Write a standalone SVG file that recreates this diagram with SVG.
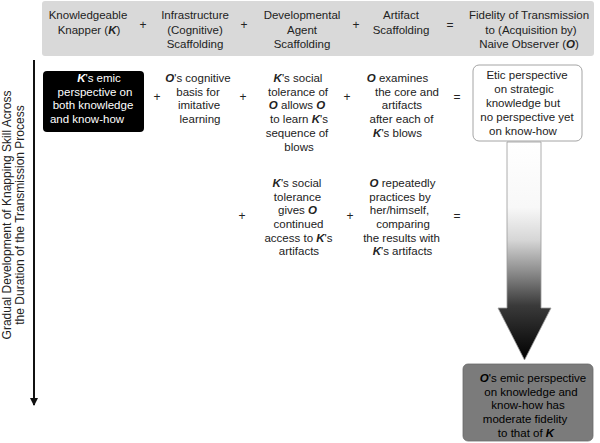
<svg xmlns="http://www.w3.org/2000/svg" width="600" height="443" viewBox="0 0 600 443">
<style>
text{font-family:"Liberation Sans",Arial,sans-serif;font-size:11.5px;fill:#222;text-anchor:middle}
.w{fill:#fff}
.k{fill:#000}
.bi{font-weight:bold;font-style:italic}
.op{font-size:12px}
.rot{font-size:12px}
</style>
<defs>
<linearGradient id="fade" gradientUnits="userSpaceOnUse" x1="0" y1="142" x2="0" y2="360">
<stop offset="0" stop-color="#ffffff"/>
<stop offset="0.3" stop-color="#f8f8f8"/>
<stop offset="0.45" stop-color="#d6d6d6"/>
<stop offset="0.6" stop-color="#8a8a8a"/>
<stop offset="0.75" stop-color="#3a3a3a"/>
<stop offset="1" stop-color="#000000"/>
</linearGradient>
<marker id="ah" markerWidth="8" markerHeight="8" refX="7" refY="4" orient="auto" markerUnits="userSpaceOnUse">
<path d="M0,0 L8,4 L0,8 Z" fill="#111"/>
</marker>
</defs>
<rect width="600" height="443" fill="#fff"/>

<g id="header">
<rect x="42" y="1" width="552" height="55" rx="3" fill="#d9d9d9"/>
<text x="88" y="19">Knowledgeable</text>
<text x="89" y="33.5">Knapper (<tspan class="bi">K</tspan>)</text>
<text x="143" y="29" class="op">+</text>
<text x="195" y="19">Infrastructure</text>
<text x="195" y="33.5">(Cognitive)</text>
<text x="195" y="48">Scaffolding</text>
<text x="244" y="29" class="op">+</text>
<text x="302" y="19">Developmental</text>
<text x="302" y="33.5">Agent</text>
<text x="302" y="48">Scaffolding</text>
<text x="356" y="29" class="op">+</text>
<text x="401" y="19">Artifact</text>
<text x="401" y="33.5">Scaffolding</text>
<text x="450" y="29" class="op">=</text>
<text x="529" y="19">Fidelity of Transmission</text>
<text x="531" y="33.5">to (Acquisition by)</text>
<text x="529" y="48">Naive Observer (<tspan class="bi">O</tspan>)</text>
</g>

<g id="axis-label">
<text class="rot" transform="translate(10.5,215) rotate(-90)">Gradual Development of Knapping Skill Across</text>
<text class="rot" transform="translate(23.5,215) rotate(-90)">the Duration of the Transmission Process</text>
</g>

<g id="connectors">
<line x1="34" y1="60" x2="34" y2="405" stroke="#111" stroke-width="2" marker-end="url(#ah)"/>
<path id="fidelity-arrow" d="M507,142 L541,142 L541,308 L551,308 L524.5,360 L498,308 L507,308 Z" fill="url(#fade)" stroke="#9a9a9a" stroke-width="0.8"/>
</g>

<g id="k-emic">
<rect x="43" y="71" width="101" height="61" rx="4" fill="#000"/>
<text class="w" x="99" y="82"><tspan class="bi">K</tspan>'s emic</text>
<text class="w" x="95" y="95.7">perspective on</text>
<text class="w" x="93" y="109.4">both knowledge</text>
<text class="w" x="87" y="123">and know-how</text>
</g>

<g id="o-cognitive">
<text x="198" y="82"><tspan class="bi">O</tspan>'s cognitive</text>
<text x="198" y="95.7">basis for</text>
<text x="199" y="109.4">imitative</text>
<text x="200" y="123">learning</text>
</g>

<g id="k-tolerance-1">
<text x="298" y="82"><tspan class="bi">K</tspan>'s social</text>
<text x="298" y="95.7">tolerance of</text>
<text x="297" y="109.4"><tspan class="bi">O</tspan> allows <tspan class="bi">O</tspan></text>
<text x="299" y="123">to learn <tspan class="bi">K</tspan>'s</text>
<text x="297" y="136.8">sequence of</text>
<text x="299" y="150.5">blows</text>
</g>

<g id="o-examines">
<text x="397.5" y="82"><tspan class="bi">O</tspan> examines</text>
<text x="407" y="95.7">the core and</text>
<text x="402" y="109.4">artifacts</text>
<text x="401.5" y="123">after each of</text>
<text x="397.5" y="136.8"><tspan class="bi">K</tspan>'s blows</text>
</g>

<g id="etic">
<rect x="473" y="65" width="109" height="76" rx="6" fill="#fff" stroke="#9a9a9a" stroke-width="0.9"/>
<text x="527" y="79">Etic perspective</text>
<text x="524" y="93">on strategic</text>
<text x="523" y="107">knowledge but</text>
<text x="527" y="121">no perspective yet</text>
<text x="523" y="135">on know-how</text>
</g>

<g id="k-tolerance-2">
<text x="297" y="187"><tspan class="bi">K</tspan>'s social</text>
<text x="297.5" y="200.7">tolerance</text>
<text x="297.5" y="214.4">gives <tspan class="bi">O</tspan></text>
<text x="298.5" y="228">continued</text>
<text x="298.5" y="241.7">access to <tspan class="bi">K</tspan>'s</text>
<text x="299" y="255.4">artifacts</text>
</g>

<g id="o-practices">
<text x="402.5" y="187"><tspan class="bi">O</tspan> repeatedly</text>
<text x="400" y="200.7">practices by</text>
<text x="399.5" y="214.4">her/himself,</text>
<text x="403" y="228">comparing</text>
<text x="401.5" y="241.7">the results with</text>
<text x="402.5" y="255.4"><tspan class="bi">K</tspan>'s artifacts</text>
</g>

<g id="o-emic">
<rect x="463" y="364" width="130" height="77" rx="5" fill="#7b7b7b" stroke="#6a6a6a" stroke-width="0.8"/>
<text class="k" x="533" y="382"><tspan class="bi">O</tspan>'s emic perspective</text>
<text class="k" x="531" y="395.7">on knowledge and</text>
<text class="k" x="528" y="409.4">know-how has</text>
<text class="k" x="525" y="423">moderate fidelity</text>
<text class="k" x="526" y="436.7">to that of <tspan class="bi">K</tspan></text>
</g>

<g id="operators">
<text x="157" y="101" class="op">+</text>
<text x="243" y="101" class="op">+</text>
<text x="347" y="101" class="op">+</text>
<text x="457" y="101" class="op">=</text>
<text x="242" y="220" class="op">+</text>
<text x="350" y="220" class="op">+</text>
<text x="457" y="220" class="op">=</text>
</g>
</svg>
